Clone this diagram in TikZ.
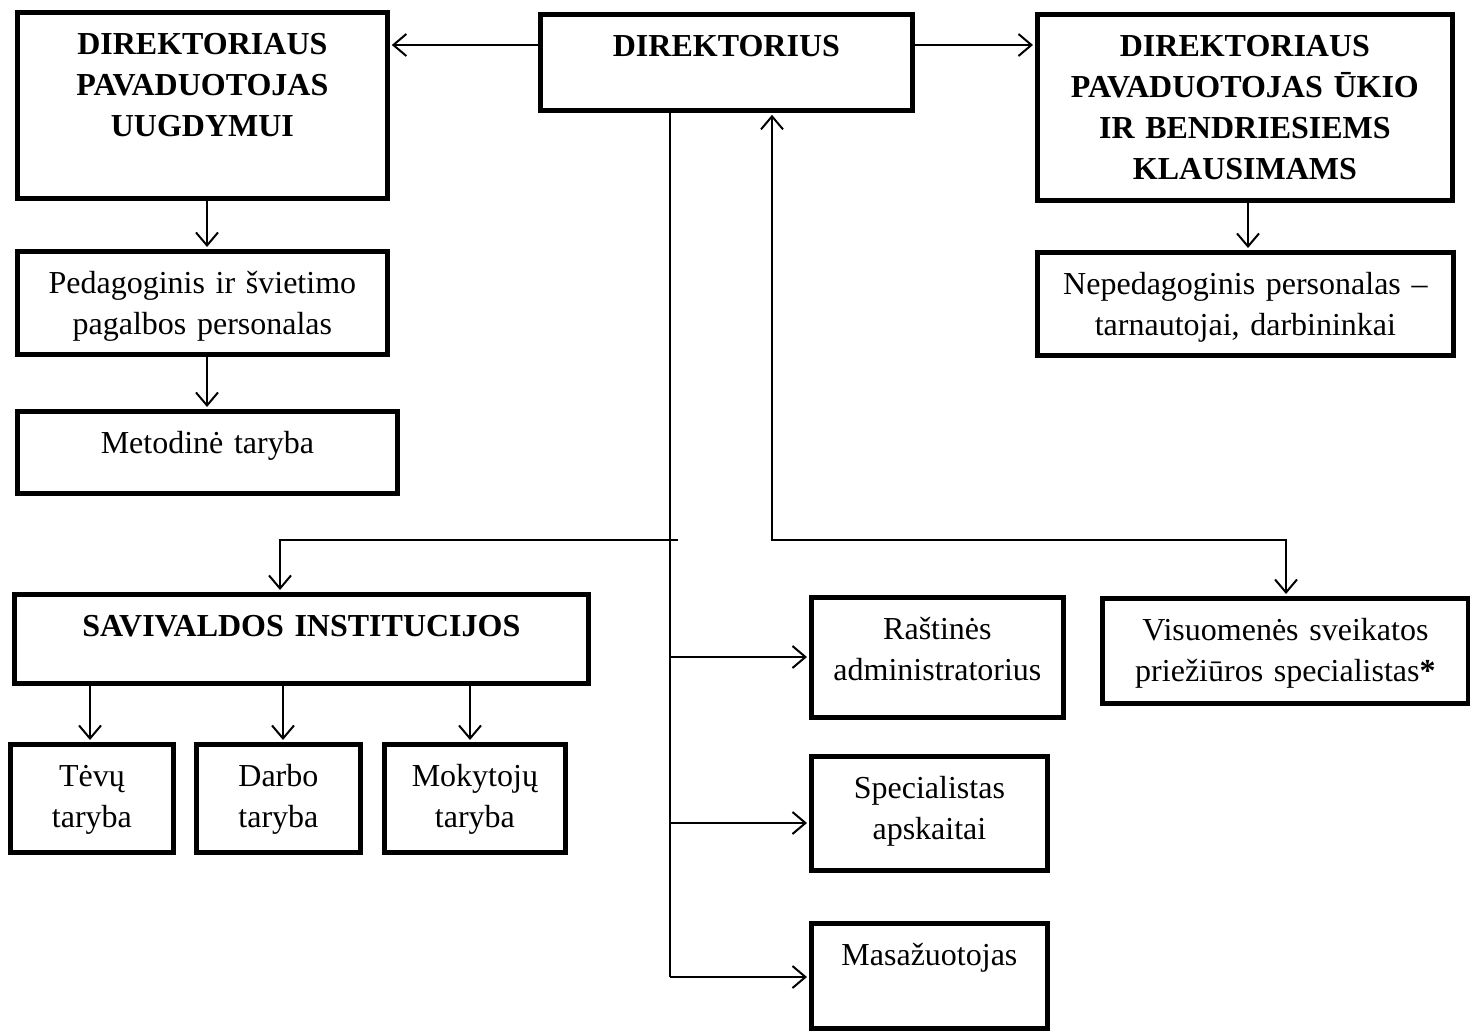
\documentclass[tikz,border=0pt]{standalone}
\usepackage{fontspec}
\setmainfont{Liberation Serif}
\usetikzlibrary{arrows.meta}

\begin{document}
\begin{tikzpicture}[x=0.5pt, y=-0.5pt,
  blk/.style={draw, line width=2.4pt, anchor=north west, inner sep=0pt, align=center,
    text height=21pt, font=\fontsize{16}{20.5}\selectfont},
  bold/.style={font=\fontsize{16}{20.5}\selectfont\bfseries},
  tip/.tip={Straight Barb[length=6.5pt, width=11pt, line width=1pt]},
  arr/.style={line width=1pt, -tip, shorten >=1pt},
  arr2/.style={line width=1pt, tip-tip, shorten >=1pt, shorten <=1pt}]
\useasboundingbox (0,0) rectangle (1470,1032);

% top row
\node[blk, bold, text width=186pt, text depth=27pt] (dir) at (538,12) {DIREKTORIUS};
\node[blk, bold, text width=185pt, text depth=72pt] (depU) at (15,10) {DIREKTORIAUS\\PAVADUOTOJAS\\UUGDYMUI};
\node[blk, bold, text width=207.5pt, text depth=72pt] (depUk) at (1035,12) {DIREKTORIAUS\\PAVADUOTOJAS ŪKIO\\IR BENDRIESIEMS\\KLAUSIMAMS};

% left and right columns
\node[blk, text width=185pt, text depth=30.5pt] (ped) at (15,249) {Pedagoginis ir švietimo\\pagalbos personalas};
\node[blk, text width=190pt, text depth=20pt] (met) at (15,409) {Metodinė taryba};
\node[blk, text width=208pt, text depth=30.5pt] (neped) at (1035,250) {Nepedagoginis personalas –\\tarnautojai, darbininkai};

% self-government
\node[blk, bold, text width=287pt, text depth=23.5pt] (sav) at (12,592) {SAVIVALDOS INSTITUCIJOS};
\node[blk, text width=81.5pt, text depth=33pt] (tev) at (8,742) {Tėvų\\taryba};
\node[blk, text width=82pt, text depth=33pt] (darb) at (194,742) {Darbo\\taryba};
\node[blk, text width=90.5pt, text depth=33pt] (mok) at (382,742) {Mokytojų\\taryba};

% staff under the director
\node[blk, text width=126pt, text depth=39pt] (rast) at (809,595) {Raštinės\\administratorius};
\node[blk, text width=183pt, text depth=31.5pt] (visu) at (1100,596) {Visuomenės sveikatos\\priežiūros specialistas\textbf{*}};
\node[blk, text width=118pt, text depth=36pt] (spec) at (809,754) {Specialistas\\apskaitai};
\node[blk, text width=118pt, text depth=31.5pt] (mas) at (809,921) {Masažuotojas};

\coordinate (trunk) at (670,977);
\coordinate (jSav) at (678,540);
\coordinate (kSav) at (280,540);
\coordinate (jRast) at (670,657);
\coordinate (jSpec) at (670,823);
\coordinate (kUp) at (772,540);
\coordinate (kVis) at (1286,540);

\draw[arr] (dir.west |- 0,45) -- (depU.east |- 0,45);
\draw[arr] (dir.east |- 0,45) -- (depUk.west |- 0,45);
\draw[arr] (depU.south -| 207,0) -- (ped.north -| 207,0);
\draw[arr] (ped.south -| 207,0) -- (met.north -| 207,0);
\draw[arr] (depUk.south -| 1248,0) -- (neped.north -| 1248,0);

\draw[line width=1pt] (dir.south -| trunk) -- (trunk);
\draw[arr] (jSav) -- (kSav) -- (kSav |- sav.north);
\draw[arr] (jRast) -- (jRast -| rast.west);
\draw[arr] (jSpec) -- (jSpec -| spec.west);
\draw[arr] (trunk) -- (trunk -| mas.west);
\draw[arr2] (dir.south -| kUp) -- (kUp) -- (kVis) -- (kVis |- visu.north);

\foreach \n/\x in {tev/90, darb/283, mok/470}
  \draw[arr] (sav.south -| \x,0) -- (\n.north -| \x,0);
\end{tikzpicture}
\end{document}
